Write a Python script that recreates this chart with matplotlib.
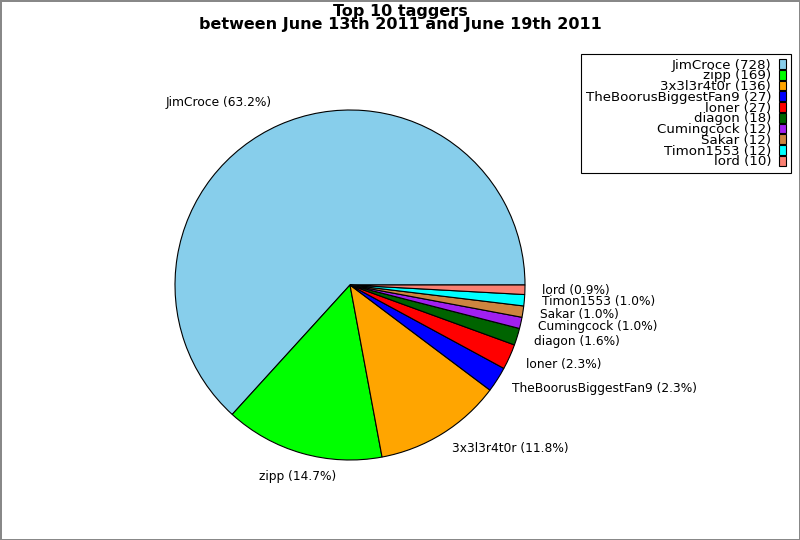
import numpy as np
import matplotlib
matplotlib.use("Agg")
import matplotlib.pyplot as plt
from matplotlib.patches import Patch

names = ["JimCroce", "zipp", "3x3l3r4t0r", "TheBoorusBiggestFan9", "loner",
         "diagon", "Cumingcock", "Sakar", "Timon1553", "lord"]
counts = [728, 169, 136, 27, 27, 18, 12, 12, 12, 10]
colors = ["#87CEEB", "#00FF00", "#FFA500", "#0000FF", "#FF0000",
          "#006400", "#A020F0", "#CD853F", "#00FFFF", "#FA8072"]
title = "Top 10 taggers\nbetween June 13th 2011 and June 19th 2011"

plt.rcParams['font.family'] = ['DejaVu Sans']
fig = plt.figure(figsize=(8, 5.4), dpi=100)
fig.patch.set_edgecolor('#888888')
fig.patch.set_linewidth(1.0)

ax = fig.add_axes([175/800, 80/540, 350/800, 350/540])
wedges, _ = ax.pie(counts, colors=colors, startangle=0, counterclock=True,
                   radius=1.0, wedgeprops=dict(edgecolor='black', linewidth=0.8))
ax.set_xlim(-1, 1)
ax.set_ylim(-1, 1)
ax.set_aspect('equal')
ax.axis('off')

total = sum(counts)
cum = 0
for n, c in zip(names, counts):
    mid = (cum + c / 2) / total * 2 * np.pi
    cum += c
    cx, cy = np.cos(mid), np.sin(mid)
    ha = 'left' if cx > 0.35 else ('right' if cx < -0.35 else 'center')
    va = 'bottom' if cy > 0.9 else ('top' if cy < -0.9 else 'center')
    ax.text(1.1 * cx, 1.1 * cy, f"{n} ({c / total * 100:.1f}%)", ha=ha, va=va,
            fontsize=8.8, clip_on=False)

fig.text(0.5, 1 - 4/540, title, ha='center', va='top', fontsize=11.5,
         fontweight='bold', linespacing=0.85)

handles = [Patch(facecolor=col, edgecolor='black', linewidth=0.8) for col in colors]
labels = [f"{n} ({c})" for n, c in zip(names, counts)]
leg = fig.legend(handles, labels, loc='upper right',
                 bbox_to_anchor=(791/800, 1 - 54/540), markerfirst=False,
                 fontsize=9.6, frameon=True, fancybox=False, shadow=False,
                 framealpha=1, edgecolor='black', borderpad=0.35,
                 labelspacing=-0.17, handlelength=0.55, handleheight=0.75,
                 handletextpad=0.6, borderaxespad=0)
leg.get_frame().set_linewidth(0.8)

fig.savefig("out.png", dpi=100, facecolor='white', edgecolor=fig.patch.get_edgecolor())
